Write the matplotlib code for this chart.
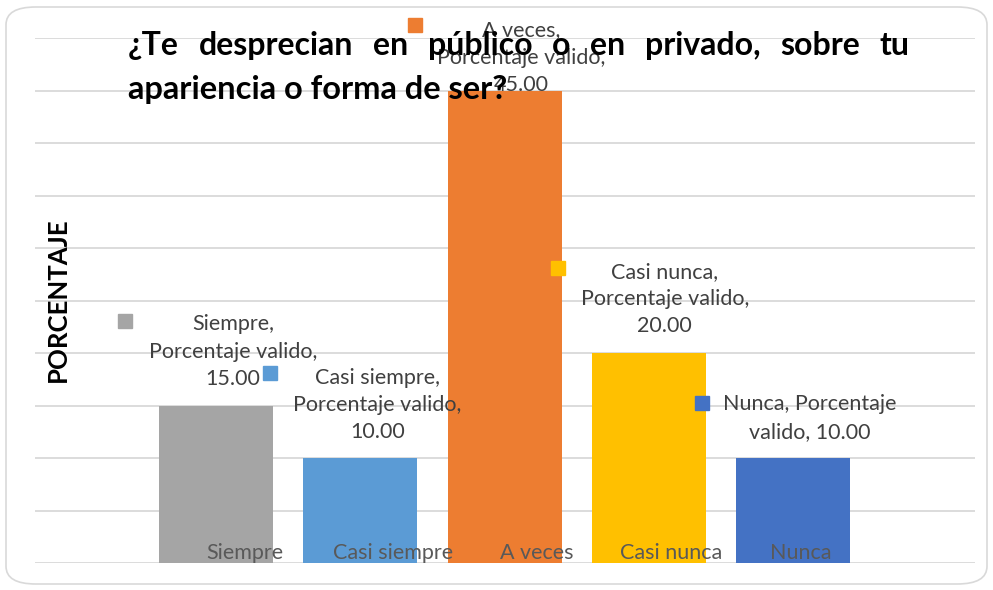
#!/usr/bin/env python3
# -*- coding: utf-8 -*-
import matplotlib
matplotlib.use('Agg')
import matplotlib.pyplot as plt
from matplotlib.patches import FancyBboxPatch
from matplotlib.transforms import offset_copy

#==============================================================================#
categories = ['Siempre', 'Casi siempre', 'A veces', 'Casi nunca', 'Nunca']
values = [15.00, 10.00, 45.00, 20.00, 10.00]
colors = ['#a5a5a5', '#5b9bd5', '#ed7d31', '#ffc000', '#4472c4']
series_name = 'Porcentaje valido'
title_lines = ['¿Te desprecian en público o en privado, sobre tu',
               'apariencia o forma de ser?']
ylabel = 'PORCENTAJE'

# label layout (pixel offsets from the bar top)
lab_dx = [17, 17, 17, 16, 17]
lab_dy = [54, 53, 33, 54, 40]
key_dx = [-91, -90, -90, -91, -91]
key_dy = [85, 85, 66, 85, 55]
cat_dx = [29, 33, 32, 22, 8]
#==============================================================================#
plt.rcParams['font.family'] = ['Lato', 'DejaVu Sans']
DPI = 100
fig = plt.figure(figsize=(9.93, 5.90), dpi=DPI, facecolor='white')

# rounded outer border
fig.patches.append(FancyBboxPatch((6/993, 6/590), 981/993, 577/590,
                                  boxstyle='round,pad=0,rounding_size=0.03',
                                  transform=fig.transFigure, fc='none',
                                  ec='#d9d9d9', lw=1.2, zorder=-1))

ax = fig.add_axes([35/993, 1-563/590, 940/993, (563-38)/590])
ax.set_facecolor('none')
x = list(range(len(categories)))
ax.bar(x, values, width=0.79, color=colors, zorder=2)
ax.set_xlim(-1.254, 5.26)
ax.set_ylim(0, 50)
ax.set_yticks(range(0, 51, 5))
ax.yaxis.grid(True, color='#d9d9d9', lw=1.3, zorder=0)
ax.set_axisbelow(True)
ax.tick_params(left=False, bottom=False, labelleft=False, labelbottom=False)
for s in ax.spines.values():
    s.set_visible(False)

px = 72.0 / DPI
for i, (c, v) in enumerate(zip(categories, values)):
    # category label sits inside the bar, near the base
    tr = offset_copy(ax.transData, fig=fig, x=cat_dx[i]*px, y=4*px, units='points')
    ax.text(i, 0, c, transform=tr, ha='center', va='baseline',
            fontsize=15.5, color='#595959', zorder=3)
    # data label
    if c == 'Nunca':
        txt = f'{c}, {series_name.split()[0]}\n{series_name.split()[1]}, {v:.2f}'
    else:
        txt = f'{c},\n{series_name},\n{v:.2f}'
    tr = offset_copy(ax.transData, fig=fig, x=lab_dx[i]*px, y=lab_dy[i]*px, units='points')
    ax.text(i, v, txt, transform=tr, ha='center', va='center',
            fontsize=15.5, color='#404040', linespacing=1.45, zorder=4)
    tr = offset_copy(ax.transData, fig=fig, x=key_dx[i]*px, y=key_dy[i]*px, units='points')
    ax.plot([i], [v], marker='s', ms=9.5, color=colors[i], transform=tr,
            clip_on=False, zorder=4)

# y label
fig.text(58/993, 1-300/590, ylabel, rotation=90, ha='center', va='center',
         fontsize=18.5, fontweight='bold', color='black')

# title, first line justified
fig.canvas.draw()
r = fig.canvas.get_renderer()
x0, x1 = 128, 910
words = title_lines[0].split()
tmp = [fig.text(0, 0, w, fontsize=23, fontweight='bold') for w in words]
widths = [t.get_window_extent(r).width for t in tmp]
for t in tmp:
    t.remove()
gap = (x1 - x0 - sum(widths)) / (len(words) - 1)
xc = x0
for w, wd in zip(words, widths):
    fig.text(xc/993, 1-55/590, w, fontsize=23, fontweight='bold',
             ha='left', va='baseline', zorder=5)
    xc += wd + gap
fig.text(x0/993, 1-99/590, title_lines[1], fontsize=23.5, fontweight='bold',
         ha='left', va='baseline', zorder=5)

fig.savefig('out.png', dpi=DPI)
